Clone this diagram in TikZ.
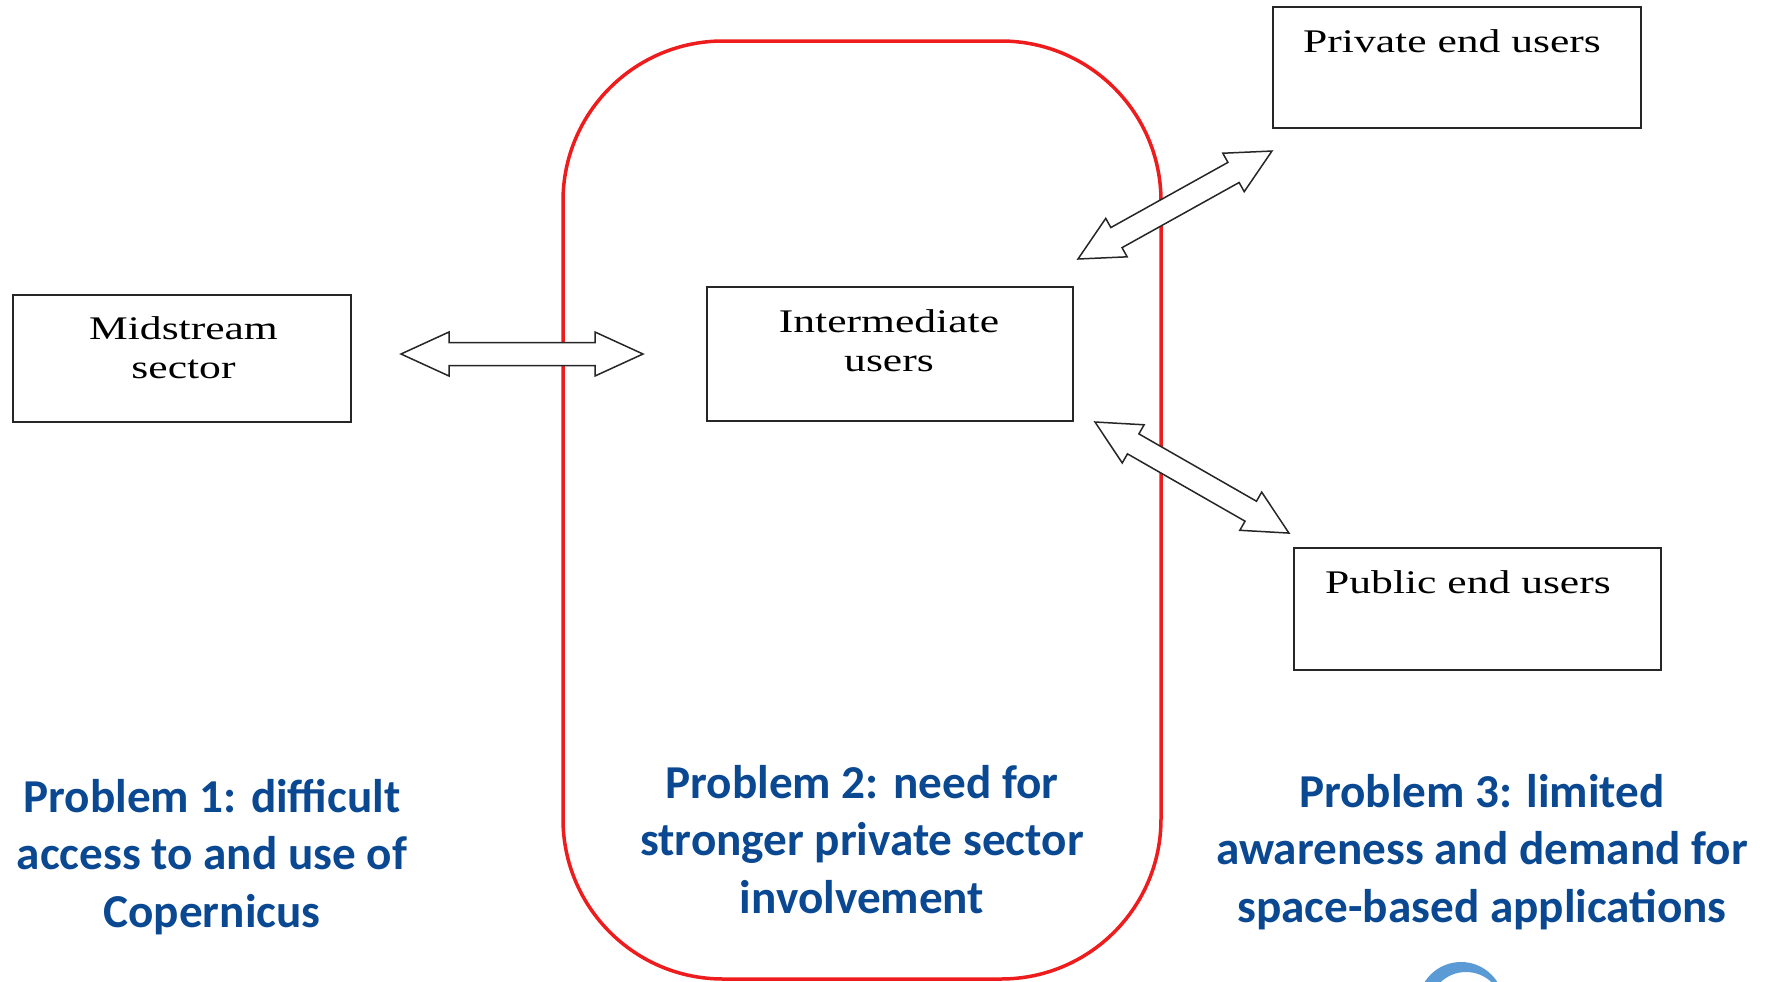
\documentclass[tikz,border=0pt]{standalone}
\usepackage{fontspec}
\setmainfont{Liberation Serif}
\newfontfamily\probfont{Carlito}
\definecolor{probblue}{HTML}{0A4891}
\definecolor{logoblue}{HTML}{5B9BD5}
\definecolor{framered}{HTML}{EE1C1C}
\newcommand{\wide}[1]{\scalebox{1.32}[1]{#1}}
\begin{document}
\begin{tikzpicture}[x=0.5pt,y=-0.5pt,
  box/.style={draw=black!85, line width=1.1pt, rectangle, inner sep=0pt},
  boxtext/.style={font=\fontsize{16.5}{19.5}\selectfont, align=center, anchor=base, inner sep=0pt},
  probtext/.style={font=\probfont\bfseries\fontsize{23.6}{28.75}\selectfont, text=probblue, align=center, anchor=base, inner sep=0pt},
  pics/dblarrow/.style args={#1/#2}{code={
    \draw[line width=0.75pt, draw=black!85, fill=white, line join=miter]
      (0,0) -- (#2,22) -- (#2,11.5) -- (#1-#2,11.5) -- (#1-#2,22) -- (#1,0)
      -- (#1-#2,-22) -- (#1-#2,-11.5) -- (#2,-11.5) -- (#2,-22) -- cycle;}}
]
\useasboundingbox (0,0) rectangle (1769,981);

% red frame
\draw[framered, line width=1.75pt, rounded corners=80pt] (563,41) rectangle (1161,979);

% boxes
\node[box, minimum width=169pt, minimum height=63.5pt] (mid) at (182,358.5) {};
\node[box, minimum width=184pt, minimum height=60.5pt] (priv) at (1457,67.5) {};
\node[box, minimum width=183pt, minimum height=67pt] (inter) at (890,354) {};
\node[box, minimum width=183.5pt, minimum height=61pt] (pub) at (1477.5,609) {};

\node[boxtext] (midt) at (183.5,378) {\wide{Midstream}\\\wide{sector}};
\node[boxtext] (privt) at (1452,52) {\wide{Private end users}};
\node[boxtext] (intert) at (889,371) {\wide{Intermediate}\\\wide{users}};
\node[boxtext] (pubt) at (1468,593) {\wide{Public end users}};

% double arrows
\coordinate (a1) at (401,354);
\coordinate (a2) at (1078,259);
\coordinate (a3) at (1095,422);
\pic at (a1) {dblarrow=242/48};
\pic[rotate=29.1] at (a2) {dblarrow=222/44};
\pic[rotate=-29.8] at (a3) {dblarrow=223.5/44};

% problem texts
\node[probtext] (p1) at (212,927) {Problem 1: difficult\\access to and use of\\Copernicus};
\node[probtext] (p2) at (862,913) {Problem 2: need for\\stronger private sector\\involvement};
\node[probtext] (p3) at (1482,922) {Problem 3: limited\\awareness and demand for\\space-based applications};

% partial logo
\begin{scope}
  \clip (0,0) rectangle (1769,981);
  \fill[logoblue, even odd rule] (1461,1005) circle[radius=43] (1466,1009) circle[radius=37];
\end{scope}
\end{tikzpicture}
\end{document}
